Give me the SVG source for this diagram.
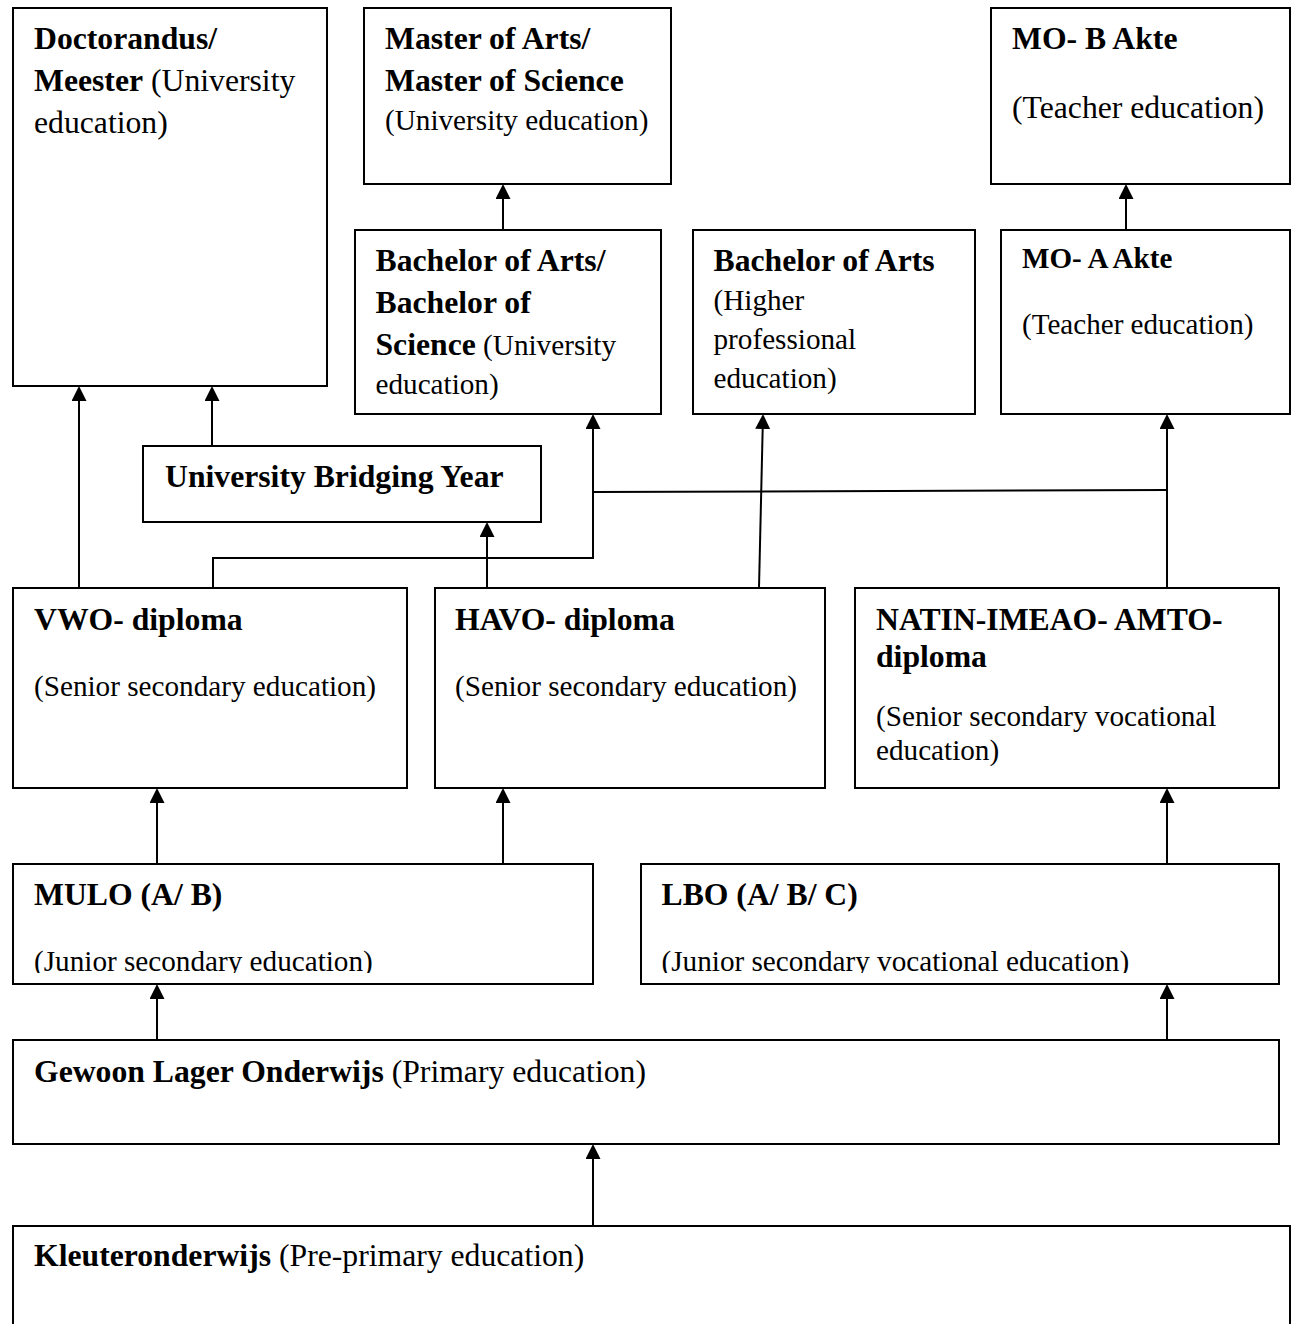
<svg xmlns="http://www.w3.org/2000/svg" width="1291" height="1324" viewBox="0 0 1291 1324">
<style>
.box{fill:#fff;stroke:#000;stroke-width:2}
.t{font-family:"Liberation Serif","Times New Roman",serif;font-size:29.2px;fill:#000}
.b{font-weight:bold;font-size:31.7px}
.big{font-size:31.7px}
.sm{font-size:29.1px}
.c{fill:none;stroke:#000;stroke-width:2}
</style>
<defs>
<marker id="ah" markerUnits="userSpaceOnUse" markerWidth="15" markerHeight="15" viewBox="0 0 15 15" refX="10" refY="7.5" orient="auto">
<path d="M0,0 L15,7.5 L0,15 z" fill="#000"/>
</marker>
<clipPath id="clipJ"><rect x="0" y="0" width="1291" height="973"/></clipPath>
</defs>
<rect width="1291" height="1324" fill="#fff"/>

<g id="doctorandus">
<rect class="box" x="13" y="8" width="314" height="378"/>
<text class="t big" x="34" y="49"><tspan class="b">Doctorandus/</tspan></text>
<text class="t big" x="34" y="91"><tspan class="b">Meester</tspan> (University</text>
<text class="t big" x="34" y="133">education)</text>
</g>

<g id="master">
<rect class="box" x="364" y="8" width="307" height="176"/>
<text class="t b" x="385" y="49">Master of Arts/</text>
<text class="t b" x="385" y="91">Master of Science</text>
<text class="t" x="385" y="130">(University education)</text>
</g>

<g id="mo-b">
<rect class="box" x="991" y="8" width="299" height="176"/>
<text class="t b" x="1012" y="49">MO- B Akte</text>
<text class="t big" x="1012" y="118">(Teacher education)</text>
</g>

<g id="bachelor-univ">
<rect class="box" x="355" y="230" width="306" height="184"/>
<text class="t b" x="375.5" y="271">Bachelor of Arts/</text>
<text class="t b" x="375.5" y="313">Bachelor of</text>
<text class="t" x="375.5" y="355"><tspan class="b">Science</tspan> (University</text>
<text class="t" x="375.5" y="394">education)</text>
</g>

<g id="bachelor-hbo">
<rect class="box" x="693" y="230" width="282" height="184"/>
<text class="t b" x="713.5" y="271">Bachelor of Arts</text>
<text class="t" x="713.5" y="310">(Higher</text>
<text class="t" x="713.5" y="349">professional</text>
<text class="t" x="713.5" y="388">education)</text>
</g>

<g id="mo-a">
<rect class="box" x="1001" y="230" width="289" height="184"/>
<text class="t sm" x="1022" y="268" font-weight="bold">MO- A Akte</text>
<text class="t sm" x="1022" y="334">(Teacher education)</text>
</g>

<g id="bridging">
<rect class="box" x="143" y="446" width="398" height="76"/>
<text class="t b" x="165" y="487" font-size="32.2px">University Bridging Year</text>
</g>

<g id="vwo">
<rect class="box" x="13" y="588" width="394" height="200"/>
<text class="t b" x="34" y="630">VWO- diploma</text>
<text class="t" x="34" y="696">(Senior secondary education)</text>
</g>

<g id="havo">
<rect class="box" x="435" y="588" width="390" height="200"/>
<text class="t b" x="455" y="630">HAVO- diploma</text>
<text class="t" x="455" y="696">(Senior secondary education)</text>
</g>

<g id="natin">
<rect class="box" x="855" y="588" width="424" height="200"/>
<text class="t b" x="876" y="630">NATIN-IMEAO- AMTO-</text>
<text class="t b" x="876" y="667">diploma</text>
<text class="t" x="876" y="726">(Senior secondary vocational</text>
<text class="t" x="876" y="760">education)</text>
</g>

<g id="mulo">
<rect class="box" x="13" y="864" width="580" height="120"/>
<text class="t b" x="34" y="905">MULO (A/ B)</text>
<text class="t" x="34" y="971" clip-path="url(#clipJ)">(Junior secondary education)</text>
</g>

<g id="lbo">
<rect class="box" x="641" y="864" width="638" height="120"/>
<text class="t b" x="661.5" y="905">LBO (A/ B/ C)</text>
<text class="t" x="661.5" y="971" clip-path="url(#clipJ)">(Junior secondary vocational education)</text>
</g>

<g id="glo">
<rect class="box" x="13" y="1040" width="1266" height="104"/>
<text class="t big" x="34" y="1082"><tspan class="b">Gewoon Lager Onderwijs</tspan> (Primary education)</text>
</g>

<g id="kleuter">
<rect class="box" x="13" y="1226" width="1277" height="110"/>
<text class="t big" x="34" y="1266"><tspan class="b">Kleuteronderwijs</tspan> (Pre-primary education)</text>
</g>

<g id="connectors">
<path class="c" d="M79,588 V391" marker-end="url(#ah)"/>
<path class="c" d="M212,446 V391" marker-end="url(#ah)"/>
<path class="c" d="M213,588 V558 H593 V419" marker-end="url(#ah)"/>
<path class="c" d="M487,588 V527" marker-end="url(#ah)"/>
<path class="c" d="M593,492 L1167,490"/>
<path class="c" d="M1167,588 V419" marker-end="url(#ah)"/>
<path class="c" d="M759,588 L762.9,419" marker-end="url(#ah)"/>
<path class="c" d="M503,230 V189" marker-end="url(#ah)"/>
<path class="c" d="M1126,230 V189" marker-end="url(#ah)"/>
<path class="c" d="M157,864 V793" marker-end="url(#ah)"/>
<path class="c" d="M503,864 V793" marker-end="url(#ah)"/>
<path class="c" d="M1167,864 V793" marker-end="url(#ah)"/>
<path class="c" d="M157,1040 V989" marker-end="url(#ah)"/>
<path class="c" d="M1167,1040 V989" marker-end="url(#ah)"/>
<path class="c" d="M593,1226 V1149" marker-end="url(#ah)"/>
</g>
</svg>
